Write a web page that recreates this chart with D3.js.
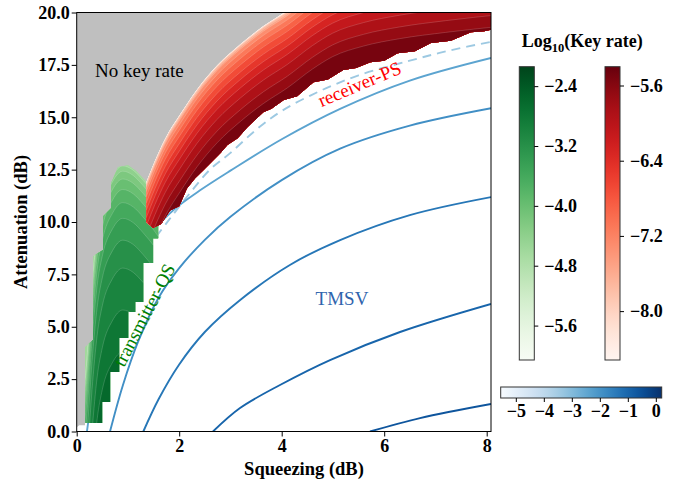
<!DOCTYPE html>
<html><head><meta charset="utf-8">
<script src="https://cdn.jsdelivr.net/npm/d3@7"></script>
<style>
body{margin:0;background:#fff}
svg{display:block}
text{font-family:"Liberation Serif","Times New Roman",serif}
</style>
</head><body>
<svg id="c" width="694" height="481"></svg>
<script>
// ---------------- data ----------------
const xTicks = [0, 2, 4, 6, 8];
const yTicks = [0, 2.5, 5, 7.5, 10, 12.5, 15, 17.5, 20];
const greenTicks = [-5.6, -4.8, -4.0, -3.2, -2.4];
const redTicks = [-8.0, -7.2, -6.4, -5.6];
const blueTicks = [-5, -4, -3, -2, -1, 0];
const greenRange = [-6.06, -2.14];
const redRange = [-8.52, -5.40];
const blueRange = [-5.54, 0.21];

// contour levels of the filled regions (log10 key rate)
const redLevels = [-8.6, -8.4, -8.2, -8.0, -7.8, -7.6, -7.4, -7.2, -7.0, -6.8, -6.6, -6.4, -6.2, -6.0, -5.8, -5.6, -5.4];
const greenLevels = [-4.7, -4.5, -4.3, -4.1, -3.9, -3.7, -3.5, -3.3, -3.1, -2.9, -2.7, -2.5, -2.3, -2.1];

// receiver-PS region: crest (zero-depth iso line), lower cut-off edge, depth -> value
const redCrest = [[1.357, 11.9], [1.53, 12.95], [1.73, 14.0], [2.02, 15.15], [2.35, 16.34], [2.74, 17.48], [3.19, 18.49], [3.64, 19.35], [4.11, 20.1], [4.6, 21.0], [5.0, 21.6], [5.6, 22.1], [6.3, 22.45], [7.2, 22.75], [8.3, 23.05]];
const redBottom = [[1.357, 10.0], [1.49, 9.71], [1.65, 9.9], [1.82, 10.55], [2.0, 10.75], [2.15, 11.6], [2.31, 12.09], [2.48, 12.5], [2.81, 13.3], [2.94, 13.67], [3.14, 14.0], [3.33, 14.52], [3.64, 15.24], [3.80, 15.4], [4.04, 15.82], [4.3, 16.0], [4.62, 16.67], [4.9, 16.8], [5.20, 17.25], [5.45, 17.35], [5.73, 17.63], [6.0, 17.7], [6.26, 18.06], [6.6, 18.15], [6.91, 18.54], [7.3, 18.65], [7.69, 19.06], [7.95, 19.1], [8.3, 19.3]];
const redDepth = [0, 0.08, 0.25, 0.55, 1.0, 1.6, 2.3, 3.0, 3.7, 4.4];
const redDepthVal = [-8.3, -7.8, -7.4, -7.1, -6.8, -6.45, -6.1, -5.85, -5.6, -5.4];

// transmitter-QS region
const greenCrest = [[0.1, 1.0], [0.2, 3.5], [0.3, 7.0], [0.4, 9.6], [0.5, 11.0], [0.7, 12.3], [0.9, 12.8], [1.1, 12.6], [1.3, 12.1], [1.5, 11.5], [1.7, 10.8]];
const greenLeftTop = [[0.162, 0.41], [0.162, 4.03], [0.319, 4.37], [0.319, 8.37], [0.514, 8.66], [0.514, 10.28], [0.671, 10.66], [0.671, 11.86], [0.807, 12.62], [1.003, 12.71], [1.159, 12.43], [1.296, 12.09], [1.433, 11.76], [1.589, 11.04]];
const greenRight = [[1.589, 9.23], [1.49, 9.23], [1.49, 8.04], [1.296, 8.04], [1.296, 6.18], [1.14, 6.18], [1.14, 5.70], [1.003, 5.70], [1.003, 4.46], [0.827, 4.46], [0.827, 2.84], [0.651, 2.84], [0.651, 1.41], [0.495, 1.41], [0.495, 0.41]];
const greenDepth = [0, 0.5, 1.5, 3, 5, 7, 9, 11, 13];
const greenDepthVal = [-4.6, -4.2, -3.8, -3.4, -3.1, -2.9, -2.7, -2.5, -2.35];

// TMSV key-rate contour lines
const tmsvLevels = [-3.4, -2.4, -1.9, -1.35, -0.95, -0.6];
const tmsvLine0 = [[1.55, 9.3], [1.8, 10.1], [2.2, 11.35], [2.6, 12.5], [3.0, 13.3], [3.5, 14.4], [4.0, 15.3], [4.7, 16.2], [5.5, 17.0], [6.5, 17.7], [7.3, 18.2], [8.084, 18.6]];
const tmsvLine1 = [[0.2, 0], [0.35, 2.5], [0.55, 5.0], [0.8, 7.0], [1.1, 8.5], [1.45, 9.5], [1.9, 10.6], [2.4, 11.5], [3.0, 12.45], [4.0, 13.95], [5.14, 15.4], [6.5, 16.75], [8.084, 17.83]];
const tmsvLine2 = [[0.65, 0], [0.9, 2.2], [1.2, 4.3], [1.6, 6.4], [2.0, 7.8], [2.5, 9.15], [3.0, 10.25], [4.0, 12.0], [5.14, 13.5], [6.5, 14.6], [8.084, 15.43]];
const tmsvLine3 = [[1.30, 0], [1.6, 1.55], [2.0, 3.2], [2.5, 4.75], [3.19, 6.28], [4.16, 7.95], [5.14, 9.14], [6.5, 10.33], [8.084, 11.19]];
const tmsvLine4 = [[2.659, 0], [3.187, 1.12], [3.967, 2.22], [4.943, 3.41], [6.309, 4.75], [8.084, 6.09]];
const tmsvLine5 = [[5.723, 0], [6.699, 0.64], [8.084, 1.31]];
const tmsvLines = [tmsvLine0, tmsvLine1, tmsvLine2, tmsvLine3, tmsvLine4, tmsvLine5];

// ---------------- drawing ----------------
const svg = d3.select("#c");
const M = {l: 76.7, r: 491, t: 12.5, b: 431.5};
const x = d3.scaleLinear().domain([0, 8.084]).range([M.l, M.r]);
const y = d3.scaleLinear().domain([0, 20]).range([M.b, M.t]);
const greenColor = d3.scaleSequential(d3.interpolateGreens).domain(greenRange);
const redColor = d3.scaleSequential(d3.interpolateReds).domain(redRange);
const blueColor = d3.scaleSequential(d3.interpolateBlues).domain(blueRange);

const P = p => [x(p[0]), y(p[1])];
const lin = d3.line();
const mono = d3.line().curve(d3.curveMonotoneX);
const smooth = d3.line().curve(d3.curveCatmullRom.alpha(0.5));
const cont = s => "L" + s.slice(1);

const defs = svg.append("defs");
defs.append("clipPath").attr("id", "plotClip").append("rect")
  .attr("x", M.l).attr("y", M.t).attr("width", M.r - M.l).attr("height", M.b - M.t);

const redOutline = mono(redCrest.map(P)) +
  cont(lin(redBottom.slice().reverse().map(P))) + "Z";
defs.append("clipPath").attr("id", "redClip").append("path").attr("d", redOutline);
const greenOutline = lin(greenLeftTop.concat(greenRight).map(P)) + "Z";
defs.append("clipPath").attr("id", "greenClip").append("path").attr("d", greenOutline);

const plot = svg.append("g").attr("clip-path", "url(#plotClip)");

// TMSV lines (under the masks)
tmsvLines.forEach((pts, i) => {
  plot.append("path").attr("d", smooth(pts.map(P)))
    .attr("fill", "none").attr("stroke", blueColor(tmsvLevels[i]))
    .attr("stroke-width", 1.9)
    .attr("stroke-dasharray", i === 0 ? "9,6" : null);
});

// no key rate region
const last = redBottom[redBottom.length - 1];
const grayPath = lin([[0, 20], [last[0], 20]].map(P)) +
  cont(lin(redBottom.slice().reverse().map(P))) +
  cont(lin([[1.589, 10.0]].concat(greenRight, [[0.162, 0.41], [0.162, 0.30], [0.05, 0.30], [0, 0.2]]).map(P))) + "Z";
plot.append("path").attr("d", grayPath).attr("fill", "#bfbfbf");

function bands(g, crest, depth, depthVal, levels, color) {
  const dScale = d3.scaleLinear().domain(depthVal).range(depth).clamp(true);
  const x0 = crest[0][0], x1 = crest[crest.length - 1][0];
  g.append("rect").attr("x", M.l).attr("y", M.t).attr("width", M.r - M.l).attr("height", M.b - M.t)
    .attr("fill", color((levels[0] + levels[1]) / 2));
  for (let i = 0; i < levels.length - 1; i++) {
    const d = dScale(levels[i]);
    const iso = crest.map(p => P([p[0], p[1] - d]));
    g.append("path")
      .attr("d", mono(iso) + cont(lin([[x1, -3], [x0, -3]].map(P))) + "Z")
      .attr("fill", color((levels[i] + levels[i + 1]) / 2));
    g.append("path").attr("d", mono(iso)).attr("fill", "none")
      .attr("stroke", "rgba(255,255,255,0.28)").attr("stroke-width", 0.6);
  }
}
bands(plot.append("g").attr("clip-path", "url(#greenClip)"), greenCrest, greenDepth, greenDepthVal, greenLevels, greenColor);
bands(plot.append("g").attr("clip-path", "url(#redClip)"), redCrest, redDepth, redDepthVal, redLevels, redColor);

// annotations
svg.append("text").attr("x", 95).attr("y", 77).attr("font-size", 19).text("No key rate");
svg.append("text").attr("x", 342).attr("y", 305).attr("text-anchor", "middle").attr("font-size", 19)
  .attr("fill", "#2f64ad").text("TMSV");
svg.append("text").attr("transform", "translate(362,90) rotate(-23)").attr("text-anchor", "middle")
  .attr("font-size", 19).attr("fill", "#ff0000").text("receiver-PS");
svg.append("text").attr("transform", "translate(150,318) rotate(-62.5)").attr("text-anchor", "middle")
  .attr("font-size", 19).attr("fill", "#008000").text("transmitter-QS");

// frame and axes
svg.append("rect").attr("x", M.l).attr("y", M.t).attr("width", M.r - M.l).attr("height", M.b - M.t)
  .attr("fill", "none").attr("stroke", "#000").attr("stroke-width", 1);

function styleAxis(g) {
  g.select(".domain").remove();
  g.selectAll("text").attr("font-family", "Liberation Serif").attr("font-weight", "bold").attr("font-size", 18).attr("fill", "#000");
  g.selectAll("line").attr("stroke", "#000");
}
svg.append("g").attr("transform", `translate(0,${M.b})`)
  .call(d3.axisBottom(x).tickValues(xTicks).tickFormat(d3.format("d")).tickSize(5).tickPadding(3)).call(styleAxis);
svg.append("g").attr("transform", `translate(${M.l},0)`)
  .call(d3.axisLeft(y).tickValues(yTicks).tickFormat(d3.format(".1f")).tickSize(5).tickPadding(2)).call(styleAxis);

svg.append("text").attr("x", 304).attr("y", 475).attr("text-anchor", "middle")
  .attr("font-weight", "bold").attr("font-size", 18.5).text("Squeezing (dB)");
svg.append("text").attr("transform", "translate(27,222) rotate(-90)").attr("text-anchor", "middle")
  .attr("font-weight", "bold").attr("font-size", 18.5).text("Attenuation (dB)");

// colorbars
function gradient(id, interp, vertical) {
  const lg = defs.append("linearGradient").attr("id", id)
    .attr("x1", "0").attr("y1", vertical ? "1" : "0").attr("x2", vertical ? "0" : "1").attr("y2", "0");
  d3.range(0, 1.0001, 0.05).forEach(t => lg.append("stop").attr("offset", t).attr("stop-color", interp(t)));
}
gradient("gGreen", d3.interpolateGreens, true);
gradient("gRed", d3.interpolateReds, true);
gradient("gBlue", d3.interpolateBlues, false);

function vbar(x0, id, domain, ticks) {
  const top = 66.7, bot = 360, w = 15;
  svg.append("rect").attr("x", x0).attr("y", top).attr("width", w).attr("height", bot - top)
    .attr("fill", `url(#${id})`).attr("stroke", "#333").attr("stroke-width", 1);
  const s = d3.scaleLinear().domain(domain).range([bot, top]);
  svg.append("g").attr("transform", `translate(${x0 + w},0)`)
    .call(d3.axisRight(s).tickValues(ticks).tickFormat(d3.format(".1f")).tickSize(4).tickPadding(6)).call(styleAxis);
}
vbar(519.3, "gGreen", greenRange, greenTicks);
vbar(605, "gRed", redRange, redTicks);

{
  const l = 500.7, r = 661.7, top = 387, bot = 398;
  svg.append("rect").attr("x", l).attr("y", top).attr("width", r - l).attr("height", bot - top)
    .attr("fill", "url(#gBlue)").attr("stroke", "#333").attr("stroke-width", 1);
  const s = d3.scaleLinear().domain(blueRange).range([l, r]);
  svg.append("g").attr("transform", `translate(0,${bot})`)
    .call(d3.axisBottom(s).tickValues(blueTicks).tickFormat(d3.format("d")).tickSize(4).tickPadding(2)).call(styleAxis);
}

// title of colorbars
const tt = svg.append("text").attr("x", 521.7).attr("y", 47).attr("font-weight", "bold").attr("font-size", 18);
tt.append("tspan").text("Log");
tt.append("tspan").attr("font-size", 12.5).attr("dy", 5).text("10");
tt.append("tspan").attr("dy", -5).text("(Key rate)");
</script>
</body></html>
